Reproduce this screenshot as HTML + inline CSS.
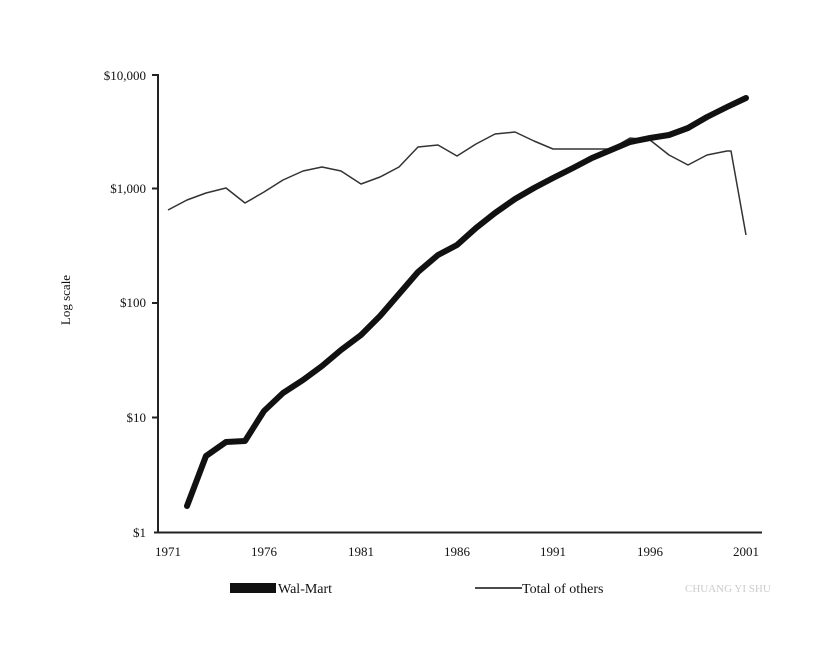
<!DOCTYPE html>
<html><head><meta charset="utf-8"><style>
body{margin:0;background:#fff}
svg text{font-family:"Liberation Serif",serif;fill:#111}
</style></head><body>
<svg width="836" height="640" xmlns="http://www.w3.org/2000/svg">
<rect width="836" height="640" fill="#fff"/>
<g stroke="#222" stroke-width="2" fill="none">
<line x1="158" y1="74" x2="158" y2="533"/>
<line x1="154" y1="532.5" x2="762" y2="532.5"/>
<line x1="152" y1="75" x2="158" y2="75"/>
<line x1="152" y1="188.5" x2="158" y2="188.5"/>
<line x1="152" y1="303" x2="158" y2="303"/>
<line x1="152" y1="417.5" x2="158" y2="417.5"/>
</g>
<g font-size="13" text-anchor="end">
<text x="146" y="80">$10,000</text>
<text x="146" y="193">$1,000</text>
<text x="146" y="307">$100</text>
<text x="146" y="422">$10</text>
<text x="146" y="537">$1</text>
</g>
<g font-size="13" text-anchor="middle">
<text x="168" y="556">1971</text>
<text x="264" y="556">1976</text>
<text x="361" y="556">1981</text>
<text x="457" y="556">1986</text>
<text x="553" y="556">1991</text>
<text x="650" y="556">1996</text>
<text x="746" y="556">2001</text>
</g>
<text x="70" y="300" font-size="13" text-anchor="middle" transform="rotate(-90 70 300)">Log scale</text>
<polyline fill="none" stroke="#333" stroke-width="1.5" stroke-linejoin="round" points="168,210 187,200 206,193 226,188 245,203 264,192 283,180 303,171 322,167 341,171 361,184 380,177 399,167 418,147 438,145 457,156 476,144 495,134 515,132 534,141 553,149 573,149 592,149 611,149 630,138 650,140 669,155 688,165 707,155 727,151 731,151 746,235"/>
<polyline fill="none" stroke="#111" stroke-width="6" stroke-linejoin="round" stroke-linecap="round" points="187,506 206,456 226,442 245,441 264,411 283,393 303,380 322,366 341,350 361,335 380,316 399,294 418,272 438,255 457,245 476,228 495,213 515,199 534,188 553,178 573,168 592,158 611,150 630,142 650,138 669,135 688,128 707,117 727,107 746,98"/>
<rect x="230" y="583" width="46" height="10" fill="#111"/>
<text x="278" y="593" font-size="14">Wal-Mart</text>
<line x1="475" y1="588" x2="522" y2="588" stroke="#111" stroke-width="1.5"/>
<text x="522" y="593" font-size="14">Total of others</text>
<text x="685" y="592" font-size="11" font-family="Liberation Sans" fill="#ccc" style="fill:#ccc">CHUANG YI SHU</text>
</svg>
</body></html>
